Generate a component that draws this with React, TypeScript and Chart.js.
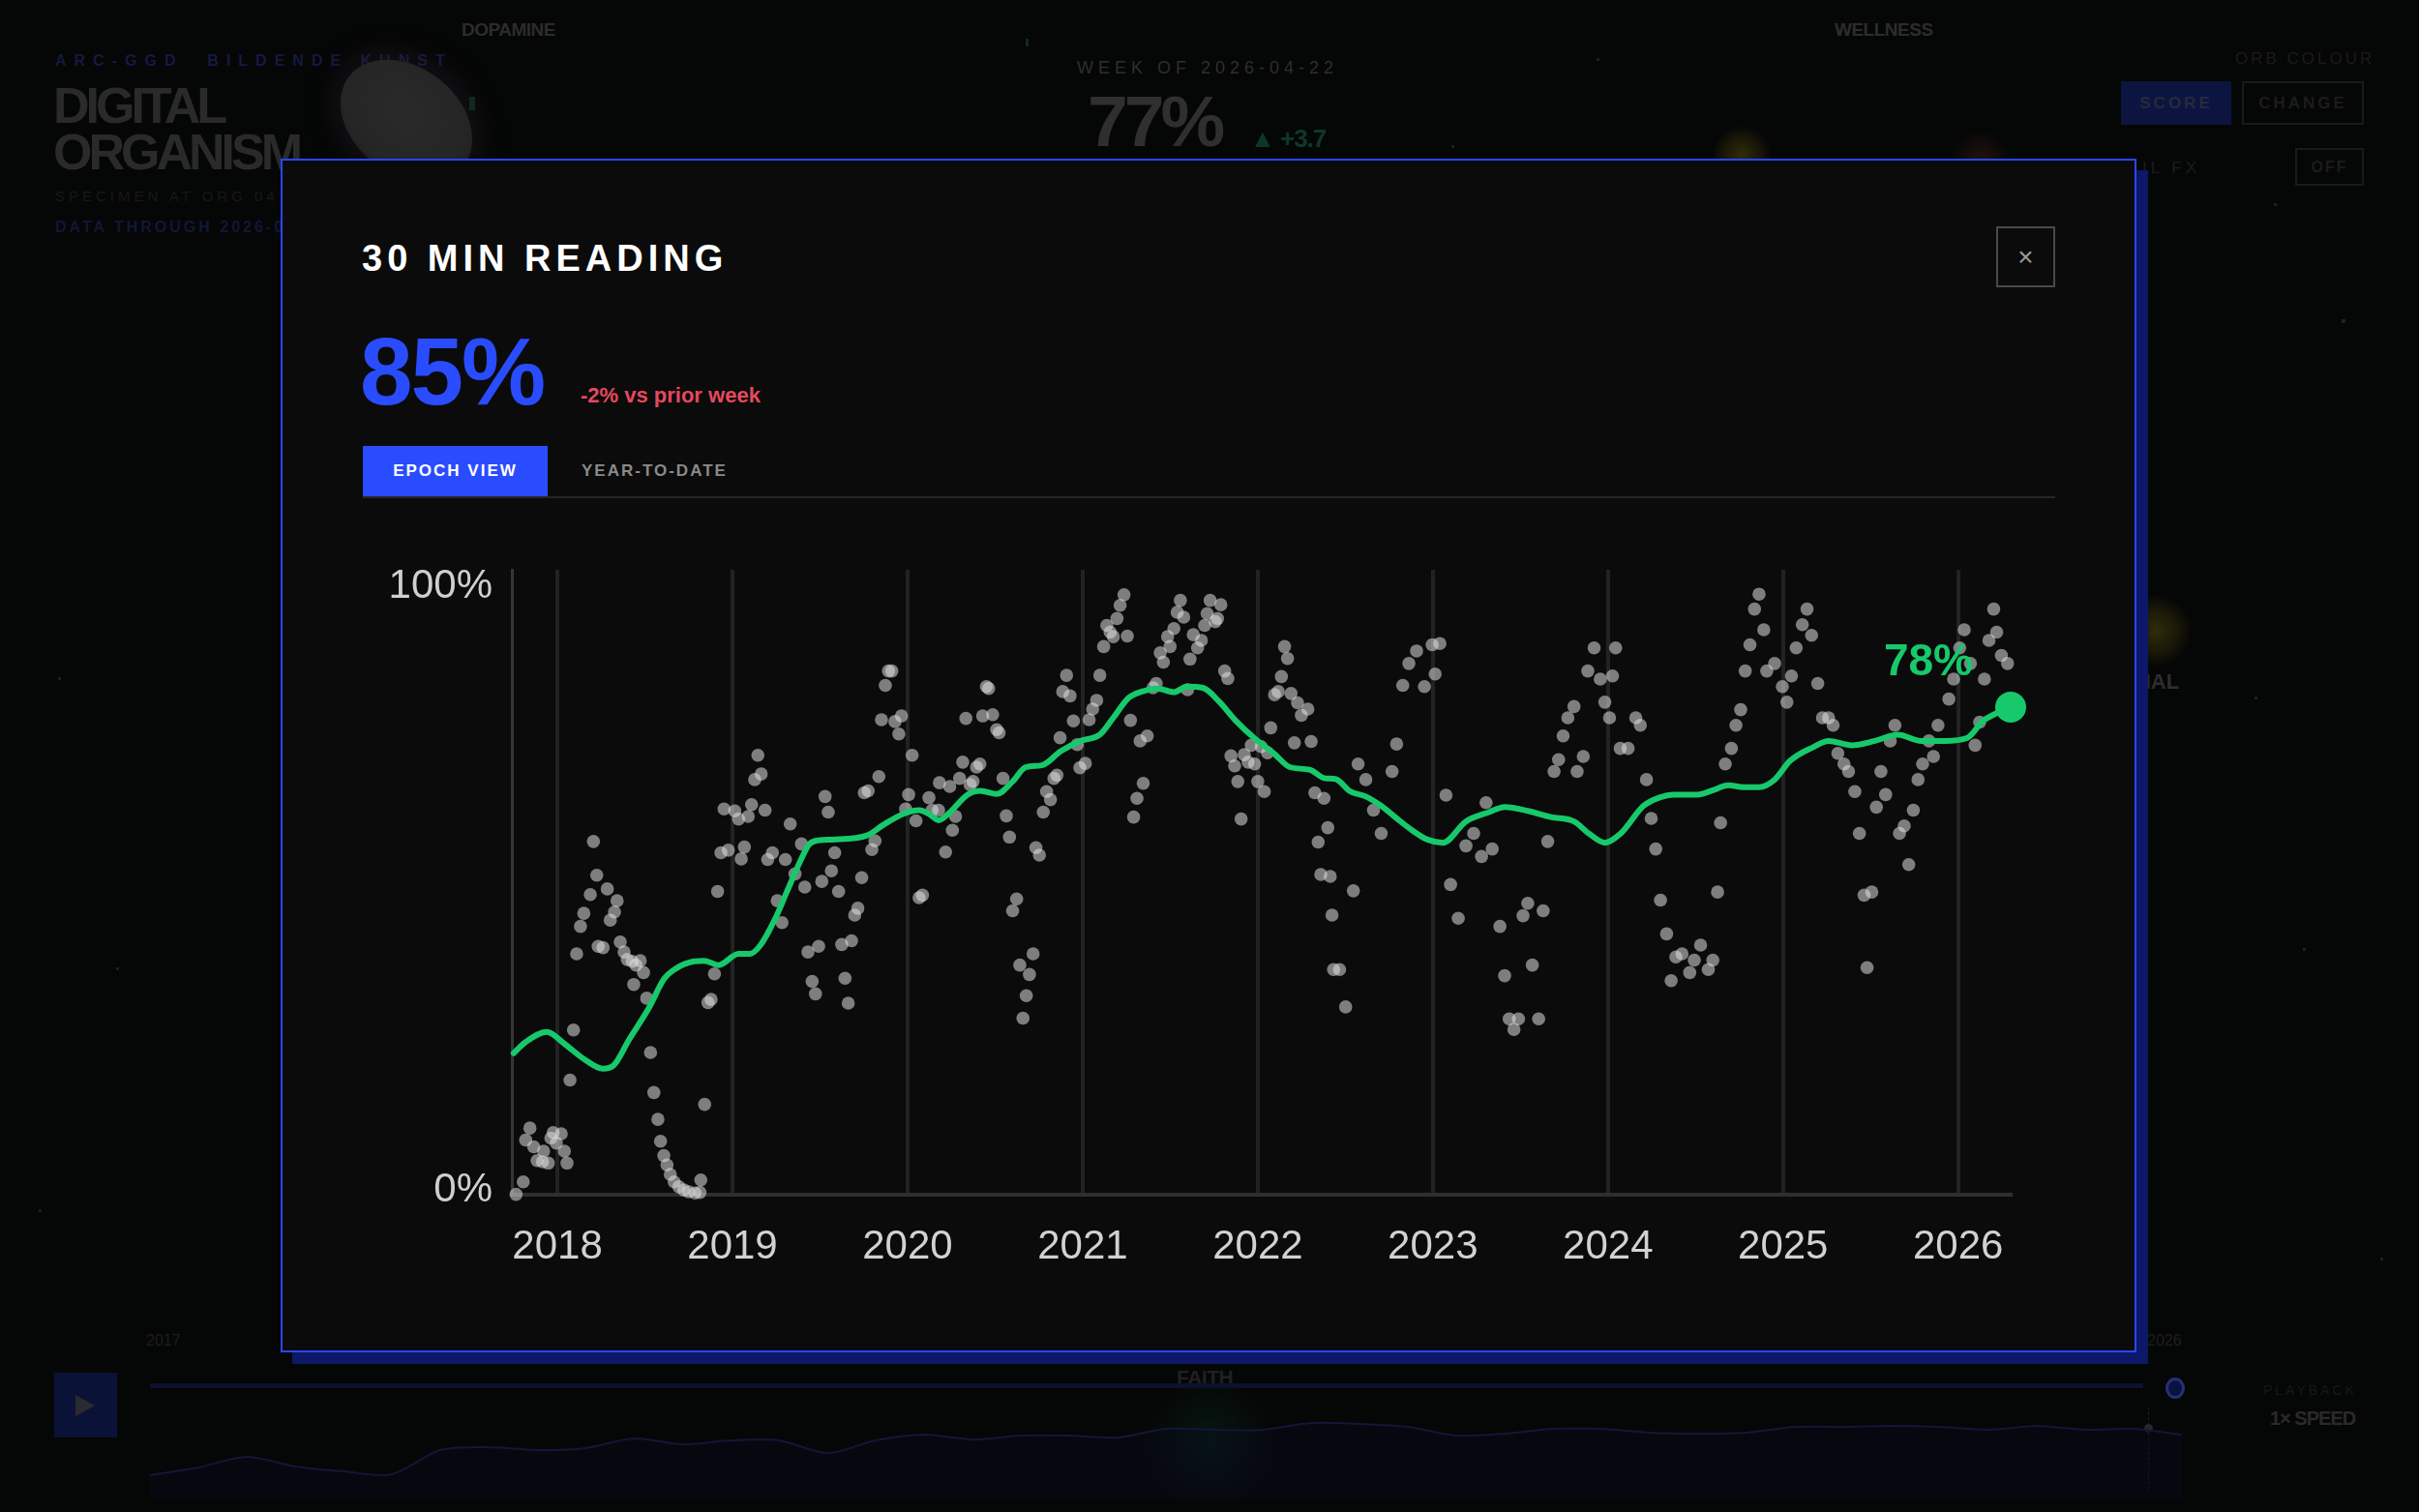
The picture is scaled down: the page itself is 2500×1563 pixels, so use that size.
import React, { useEffect, useRef } from "react";
import { Chart, registerables } from "chart.js";

Chart.register(...registerables);

const FONT = '"Liberation Sans", Arial, Helvetica, sans-serif';
const GREEN = "#17c96b";

// ---------- chart data ----------
const yearTicks = [2018, 2019, 2020, 2021, 2022, 2023, 2024, 2025, 2026];
const yTickValues = [0, 100];
const xRange = [2017.74, 2026.3];

// weekly 30-min readings: [decimal year, percent]
const weeklyReadings: [number, number][] = [
  [2017.764, 0.0], [2017.805, 2.0], [2017.819, 8.7], [2017.843, 10.6], [2017.865, 7.6], [2017.884, 5.4], [2017.915, 5.2], [2017.921, 6.9], [2017.948, 5.0], [2017.963, 9.0], [2017.976, 9.9], [2017.994, 8.2],
  [2018.022, 9.7], [2018.04, 6.9], [2018.055, 5.0], [2018.072, 18.3], [2018.092, 26.3], [2018.11, 38.5], [2018.132, 42.9], [2018.151, 45.0], [2018.188, 48.0], [2018.206, 56.5], [2018.225, 51.1], [2018.233, 39.7],
  [2018.261, 39.5], [2018.285, 48.9], [2018.302, 43.9], [2018.326, 45.2], [2018.341, 47.0], [2018.359, 40.4], [2018.381, 38.8], [2018.399, 37.6], [2018.427, 37.3], [2018.436, 33.6], [2018.449, 36.7], [2018.473, 37.4],
  [2018.492, 35.5], [2018.51, 31.4], [2018.532, 22.7], [2018.551, 16.3], [2018.574, 12.0], [2018.589, 8.5], [2018.608, 6.2], [2018.626, 4.7], [2018.645, 3.2], [2018.667, 2.0], [2018.694, 1.2], [2018.722, 0.7],
  [2018.75, 0.4], [2018.786, 0.2], [2018.814, 0.3], [2018.819, 2.3], [2018.841, 14.4], [2018.86, 30.7], [2018.878, 31.2], [2018.897, 35.3], [2018.915, 48.5], [2018.934, 54.7], [2018.952, 61.7], [2018.976, 55.1],
  [2019.013, 61.4], [2019.035, 60.1], [2019.05, 53.7], [2019.068, 55.6], [2019.09, 60.5], [2019.109, 62.4], [2019.127, 66.4], [2019.145, 70.3], [2019.164, 67.3], [2019.186, 61.5], [2019.201, 53.6], [2019.228, 54.7],
  [2019.256, 47.0], [2019.283, 43.5], [2019.302, 53.6], [2019.33, 59.3], [2019.357, 51.3], [2019.394, 56.1], [2019.413, 49.2], [2019.431, 38.8], [2019.455, 34.1], [2019.474, 32.1], [2019.492, 39.7], [2019.51, 50.1],
  [2019.529, 63.7], [2019.547, 61.2], [2019.565, 51.8], [2019.584, 54.7], [2019.606, 48.5],
  [2019.624, 40.0], [2019.643, 34.6], [2019.661, 30.6], [2019.68, 40.6], [2019.698, 44.7], [2019.716, 45.8], [2019.738, 50.7], [2019.753, 64.3], [2019.775, 64.6], [2019.796, 55.2], [2019.814, 56.6], [2019.836, 66.9],
  [2019.851, 76.0], [2019.873, 81.5], [2019.891, 83.8], [2019.91, 83.8], [2019.928, 75.7], [2019.95, 73.7], [2019.965, 76.6], [2019.989, 61.7], [2020.006, 64.0], [2020.026, 70.3], [2020.048, 59.8], [2020.066, 47.5],
  [2020.085, 47.9], [2020.122, 63.5], [2020.14, 61.5], [2020.177, 61.5], [2020.182, 65.9], [2020.217, 54.8], [2020.241, 65.3], [2020.256, 58.3], [2020.274, 60.5], [2020.297, 66.6], [2020.315, 69.2], [2020.333, 76.2],
  [2020.357, 65.6], [2020.374, 66.1], [2020.394, 68.4], [2020.413, 68.9], [2020.429, 76.6], [2020.45, 81.3], [2020.463, 81.0], [2020.486, 76.8], [2020.509, 74.4], [2020.523, 73.9], [2020.545, 66.6], [2020.564, 60.6],
  [2020.582, 57.2], [2020.6, 45.4], [2020.623, 47.3], [2020.641, 36.7], [2020.659, 28.2], [2020.678, 31.8], [2020.696, 35.2], [2020.717, 38.5], [2020.733, 55.5], [2020.753, 54.3], [2020.775, 61.2], [2020.794, 64.5],
  [2020.816, 63.2], [2020.836, 66.6], [2020.853, 67.1], [2020.871, 73.1], [2020.886, 80.5], [2020.908, 83.1], [2020.928, 79.8], [2020.947, 75.8], [2020.969, 72.0], [2020.984, 68.3], [2021.015, 69.0], [2021.037, 76.0],
  [2021.057, 77.7], [2021.08, 79.1], [2021.098, 83.1], [2021.12, 87.7], [2021.138, 91.1], [2021.157, 90.0], [2021.175, 89.3], [2021.196, 92.2], [2021.214, 94.3], [2021.236, 96.0], [2021.255, 89.4], [2021.273, 75.9],
  [2021.291, 60.4], [2021.31, 63.4], [2021.328, 72.6], [2021.346, 65.8], [2021.369, 73.4], [2021.402, 81.1], [2021.42, 81.8], [2021.443, 86.7], [2021.461, 85.2], [2021.485, 89.3], [2021.499, 87.7], [2021.521, 90.6],
  [2021.54, 93.2], [2021.558, 95.1], [2021.577, 92.4], [2021.599, 80.8], [2021.613, 85.7], [2021.632, 89.6], [2021.656, 87.5], [2021.678, 88.7], [2021.697, 91.1], [2021.711, 93.0], [2021.728, 95.1], [2021.757, 91.7],
  [2021.77, 92.2], [2021.789, 94.4], [2021.811, 83.8], [2021.829, 82.6], [2021.847, 70.2], [2021.868, 68.6], [2021.886, 66.1], [2021.905, 60.1], [2021.923, 70.4], [2021.945, 69.2], [2021.963, 71.9], [2021.982, 68.9],
  [2022.0, 66.1], [2022.019, 71.7], [2022.037, 64.5], [2022.056, 70.7], [2022.074, 74.7], [2022.096, 80.0], [2022.117, 80.5], [2022.135, 82.9], [2022.153, 87.7], [2022.17, 85.8], [2022.19, 80.2], [2022.209, 72.3],
  [2022.227, 78.7], [2022.249, 76.7], [2022.286, 77.7], [2022.305, 72.5], [2022.326, 64.3], [2022.345, 56.4], [2022.36, 51.2], [2022.378, 63.4], [2022.4, 58.7], [2022.414, 50.9], [2022.424, 44.7], [2022.433, 36.0],
  [2022.467, 36.0], [2022.502, 30.0], [2022.546, 48.6], [2022.573, 68.9], [2022.617, 66.4], [2022.661, 61.5], [2022.705, 57.8], [2022.767, 67.7], [2022.793, 72.1], [2022.828, 81.5], [2022.863, 85.0], [2022.907, 87.0],
  [2022.952, 81.3], [2022.996, 88.0], [2023.013, 83.3], [2023.04, 88.2], [2023.075, 63.9], [2023.101, 49.6], [2023.145, 44.2], [2023.189, 55.8], [2023.233, 57.8], [2023.278, 54.1], [2023.304, 62.7], [2023.339, 55.3],
  [2023.383, 42.9], [2023.41, 35.0], [2023.436, 28.1], [2023.463, 26.4], [2023.489, 28.1], [2023.515, 44.6], [2023.542, 46.6], [2023.568, 36.7], [2023.604, 28.1], [2023.63, 45.4], [2023.656, 56.5], [2023.692, 67.7],
  [2023.718, 69.6], [2023.744, 73.4], [2023.771, 76.3], [2023.806, 78.1], [2023.824, 67.7], [2023.859, 70.1], [2023.885, 83.8], [2023.921, 87.5], [2023.956, 82.5], [2023.982, 78.8], [2024.009, 76.3], [2024.026, 83.0],
  [2024.044, 87.5], [2024.07, 71.4], [2024.115, 71.4], [2024.159, 76.3], [2024.185, 75.1], [2024.22, 66.4], [2024.247, 60.2], [2024.273, 55.3], [2024.3, 47.1], [2024.335, 41.7], [2024.361, 34.2], [2024.388, 38.0],
  [2024.423, 38.5], [2024.467, 35.5], [2024.493, 37.5], [2024.529, 39.9], [2024.573, 36.0], [2024.599, 37.5], [2024.626, 48.4], [2024.643, 59.5], [2024.67, 68.9], [2024.705, 71.4], [2024.731, 75.1], [2024.758, 77.6],
  [2024.784, 83.8], [2024.811, 88.0], [2024.837, 93.7], [2024.863, 96.1], [2024.89, 90.4], [2024.907, 83.8], [2024.952, 85.0], [2024.996, 81.3], [2025.022, 78.8], [2025.048, 83.0], [2025.075, 87.5], [2025.11, 91.2],
  [2025.137, 93.7], [2025.163, 89.5], [2025.198, 81.8], [2025.225, 76.3], [2025.26, 76.3], [2025.286, 75.1], [2025.313, 70.6], [2025.348, 68.9], [2025.374, 67.7], [2025.41, 64.5], [2025.436, 57.8], [2025.463, 47.9],
  [2025.48, 36.3], [2025.507, 48.4], [2025.533, 62.0], [2025.559, 67.7], [2025.586, 64.0], [2025.612, 72.6], [2025.639, 75.1], [2025.665, 57.8], [2025.692, 59.0], [2025.718, 52.8], [2025.744, 61.5], [2025.771, 66.4],
  [2025.797, 68.9], [2025.833, 72.6], [2025.859, 70.1], [2025.885, 75.1], [2025.947, 79.3], [2025.974, 82.5], [2026.009, 87.5], [2026.035, 90.4], [2026.07, 85.0], [2026.097, 71.9], [2026.123, 75.6], [2026.15, 82.5],
  [2026.176, 88.7], [2026.203, 93.7], [2026.22, 90.0], [2026.247, 86.3], [2026.282, 85.0],
];

// smoothed trend: [decimal year, percent]
const trendLine: [number, number][] = [
  [2017.75, 22.6], [2017.82, 24.4], [2017.94, 26.0], [2018.04, 24.1], [2018.15, 21.7], [2018.26, 20.1], [2018.32, 20.6], [2018.41, 24.8],
  [2018.52, 29.7], [2018.61, 34.5], [2018.68, 36.2], [2018.78, 37.3], [2018.84, 37.4], [2018.92, 36.7], [2019.035, 38.5], [2019.1, 38.5],
  [2019.16, 39.9], [2019.24, 43.9], [2019.31, 48.4], [2019.38, 52.9], [2019.44, 56.1], [2019.5, 56.7], [2019.569, 56.8], [2019.772, 57.5],
  [2019.864, 59.2], [2019.974, 60.9], [2020.066, 61.5], [2020.122, 60.9], [2020.177, 59.9], [2020.232, 60.9], [2020.343, 64.0], [2020.416, 64.6],
  [2020.509, 64.1], [2020.6, 66.1], [2020.674, 68.4], [2020.766, 68.7], [2020.877, 71.0], [2020.987, 72.6], [2021.098, 73.6], [2021.172, 76.2],
  [2021.263, 79.5], [2021.338, 80.5], [2021.429, 81.0], [2021.521, 80.4], [2021.595, 81.3], [2021.687, 81.1], [2021.779, 78.9], [2021.872, 75.9],
  [2021.982, 73.0], [2022.092, 70.6], [2022.184, 68.4], [2022.295, 68.0], [2022.387, 66.6], [2022.443, 66.5], [2022.529, 64.5], [2022.617, 63.7],
  [2022.705, 62.2], [2022.793, 60.2], [2022.881, 58.3], [2022.969, 56.8], [2023.057, 56.3], [2023.189, 59.7], [2023.322, 61.2], [2023.41, 62.0],
  [2023.542, 61.4], [2023.674, 60.4], [2023.806, 59.7], [2023.894, 57.7], [2023.982, 56.3], [2024.07, 57.7], [2024.203, 62.2], [2024.291, 63.5],
  [2024.379, 64.0], [2024.511, 64.0], [2024.599, 64.7], [2024.687, 65.5], [2024.775, 65.2], [2024.863, 65.2], [2024.952, 66.4], [2025.04, 69.4],
  [2025.172, 71.6], [2025.26, 72.6], [2025.392, 71.9], [2025.524, 72.6], [2025.656, 73.6], [2025.789, 72.6], [2025.921, 72.6], [2026.053, 73.1],
  [2026.141, 75.8], [2026.203, 76.8], [2026.3, 78.0],
];

const latestPoint: [number, number] = [2026.3, 78];

// faint background timeline sparkline (overall score), read left to right
const sparkValues = [25, 33, 44, 34, 29, 26, 51, 54, 51, 53, 63, 57, 61, 61, 48, 61, 67, 62, 66, 66, 64, 73, 72, 72, 79, 78, 75, 66, 68, 73, 73, 69, 68, 69, 75, 75, 76, 75, 72, 76, 72, 73, 67];

// ---------- plugins ----------
const yLabelPlugin = {
  id: "yEdgeLabels",
  afterDraw(chart: any) {
    const { ctx, chartArea, scales } = chart;
    const y = scales.y;
    const top = Math.max(...yTickValues);
    ctx.save();
    ctx.font = `42px ${FONT}`;
    ctx.fillStyle = "#cfcfcf";
    ctx.textAlign = "right";
    ctx.textBaseline = "alphabetic";
    yTickValues.forEach((v) => {
      const py = y.getPixelForValue(v);
      const base = v === top ? py + 29 : py + 7;
      ctx.fillText(`${v}%`, chartArea.left - 20, base);
    });
    ctx.restore();
  },
};

const endLabelPlugin = {
  id: "endLabel",
  afterDatasetsDraw(chart: any) {
    const meta = chart.getDatasetMeta(0);
    const pt = meta && meta.data && meta.data[0];
    if (!pt) return;
    const { ctx } = chart;
    ctx.save();
    ctx.font = `bold 46px ${FONT}`;
    ctx.fillStyle = GREEN;
    ctx.textAlign = "right";
    ctx.textBaseline = "alphabetic";
    ctx.fillText(`${latestPoint[1]}%`, pt.x - 39, pt.y - 33);
    ctx.restore();
  },
};

const txt = (s: React.CSSProperties): React.CSSProperties => ({ position: "absolute", whiteSpace: "nowrap", ...s });

export default function App() {
  const chartRef = useRef<HTMLCanvasElement>(null);
  const sparkRef = useRef<HTMLCanvasElement>(null);

  useEffect(() => {
    document.body.style.margin = "0";
    const main = new Chart(chartRef.current as HTMLCanvasElement, {
      type: "scatter",
      data: {
        datasets: [
          {
            label: "latest",
            data: [{ x: latestPoint[0], y: latestPoint[1] }],
            pointRadius: 16,
            pointBackgroundColor: GREEN,
            pointBorderWidth: 0,
            order: 0,
            clip: false,
          } as any,
          {
            label: "trend",
            data: trendLine.map(([x, y]) => ({ x, y })),
            showLine: true,
            borderColor: GREEN,
            borderWidth: 6,
            pointRadius: 0,
            cubicInterpolationMode: "monotone",
            borderCapStyle: "round",
            borderJoinStyle: "round",
            order: 1,
            clip: false,
          } as any,
          {
            label: "weekly",
            data: weeklyReadings.map(([x, y]) => ({ x, y })),
            pointRadius: 6.8,
            pointBackgroundColor: "rgba(222,222,222,0.55)",
            pointBorderWidth: 0,
            order: 2,
            clip: false,
          } as any,
        ],
      },
      options: {
        responsive: false,
        animation: false,
        devicePixelRatio: 1,
        events: [],
        layout: { padding: { left: 149, right: 62, top: 29, bottom: 0 } },
        plugins: { legend: { display: false }, tooltip: { enabled: false } },
        scales: {
          x: {
            type: "linear",
            min: xRange[0],
            max: xRange[1],
            afterBuildTicks: (axis: any) => {
              axis.ticks = yearTicks.map((value) => ({ value }));
            },
            ticks: {
              callback: (v: any) => String(v),
              color: "#d2d2d2",
              font: { size: 42, family: FONT },
              padding: 30,
              autoSkip: false,
              maxRotation: 0,
            },
            grid: { color: "#222222", lineWidth: 4, drawTicks: false },
            border: { color: "#2e2e2e", width: 4 },
          },
          y: {
            min: 0,
            max: 100,
            ticks: { display: false },
            grid: { display: false, drawTicks: false },
            border: { color: "#363636", width: 3 },
          },
        },
      } as any,
      plugins: [yLabelPlugin, endLabelPlugin],
    });

    const spark = new Chart(sparkRef.current as HTMLCanvasElement, {
      type: "line",
      data: {
        labels: sparkValues.map((_, i) => i),
        datasets: [
          {
            data: sparkValues,
            borderColor: "#121738",
            borderWidth: 2,
            pointRadius: 0,
            tension: 0.3,
            fill: "start",
            backgroundColor: "rgba(10,12,30,0.4)",
          },
        ],
      },
      options: {
        responsive: false,
        animation: false,
        devicePixelRatio: 1,
        events: [],
        layout: { padding: 0 },
        plugins: { legend: { display: false }, tooltip: { enabled: false } },
        scales: { x: { display: false }, y: { display: false, min: 0, max: 100 } },
      } as any,
    });

    return () => {
      main.destroy();
      spark.destroy();
    };
  }, []);

  const specks = [
    [485, 100, 6, 14], [1060, 40, 3, 8], [1500, 150, 3, 3], [1650, 60, 3, 3], [2350, 210, 3, 3], [2420, 330, 4, 4],
    [2330, 720, 3, 3], [2380, 980, 3, 3], [60, 700, 3, 3], [120, 1000, 3, 3], [40, 1250, 3, 3], [2460, 1300, 3, 3], [1900, 30, 3, 3],
  ];

  return (
    <div style={{ position: "fixed", left: 0, top: 0, width: 2500, height: 1563, overflow: "hidden", background: "#050606", fontFamily: FONT }}>
      {/* ---- dimmed page behind the modal ---- */}
      {specks.map(([x, y, w, h], i) => (
        <div key={i} style={{ position: "absolute", left: x, top: y, width: w, height: h, background: "#0c2a1c" }} />
      ))}
      <div style={txt({ left: 57, top: 55, fontSize: 16, fontWeight: 700, letterSpacing: 8, color: "#141a40", lineHeight: "16px" })}>ARC-GGD&nbsp;&nbsp;BILDENDE KUNST</div>
      <div style={txt({ left: 55, top: 85, fontSize: 52, fontWeight: 700, letterSpacing: -4, color: "#2a2a2a", lineHeight: "48px" })}>
        DIGITAL
        <br />
        ORGANISM
      </div>
      <div style={txt({ left: 57, top: 195, fontSize: 15, letterSpacing: 4, color: "#181818", lineHeight: "15px" })}>SPECIMEN AT ORG 04 — WEEKLY</div>
      <div style={txt({ left: 57, top: 227, fontSize: 16, fontWeight: 700, letterSpacing: 3, color: "#111736", lineHeight: "16px" })}>DATA THROUGH 2026-06-01</div>
      <div
        style={{
          position: "absolute", left: 345, top: 70, width: 150, height: 110, borderRadius: "50%",
          background: "radial-gradient(ellipse at 45% 45%, #2a2a2a 0%, #252525 60%, #1b181c 100%)",
          transform: "rotate(38deg)", boxShadow: "0 0 30px 6px rgba(50,38,52,0.4)",
        }}
      />
      <div style={txt({ left: 477, top: 21, fontSize: 19, fontWeight: 700, color: "#2c2c2c", letterSpacing: -0.5, lineHeight: "19px" })}>DOPAMINE</div>
      <div style={txt({ left: 1896, top: 21, fontSize: 19, fontWeight: 700, color: "#2c2c2c", letterSpacing: -0.5, lineHeight: "19px" })}>WELLNESS</div>
      <div style={txt({ left: 1113, top: 61, fontSize: 18, letterSpacing: 5, color: "#2e2e2e", lineHeight: "18px" })}>WEEK OF 2026-04-22</div>
      <div style={txt({ left: 1124, top: 88, fontSize: 75, fontWeight: 700, letterSpacing: -4, color: "#2f2f2f", lineHeight: "75px" })}>77%</div>
      <div style={txt({ left: 1292, top: 130, fontSize: 26, fontWeight: 700, color: "#0e3826", lineHeight: "26px", letterSpacing: -1 })}>▲ +3.7</div>
      <div style={{ position: "absolute", left: 1770, top: 130, width: 60, height: 60, borderRadius: "50%", background: "radial-gradient(circle, rgba(80,70,10,0.6) 0%, rgba(55,48,8,0.3) 50%, rgba(0,0,0,0) 72%)" }} />
      <div style={{ position: "absolute", left: 2015, top: 135, width: 64, height: 60, borderRadius: "50%", background: "radial-gradient(circle, rgba(70,35,22,0.45) 0%, rgba(0,0,0,0) 70%)" }} />
      <div style={txt({ left: 2310, top: 52, fontSize: 17, letterSpacing: 3, color: "#1b1b1b", lineHeight: "17px" })}>ORB COLOUR</div>
      <div style={{ position: "absolute", left: 2192, top: 84, width: 114, height: 45, background: "#0c1440", color: "#262a3c", fontSize: 17, fontWeight: 700, letterSpacing: 3, display: "flex", alignItems: "center", justifyContent: "center" }}>SCORE</div>
      <div style={{ position: "absolute", left: 2317, top: 84, width: 126, height: 45, boxSizing: "border-box", border: "2px solid #191919", color: "#1c1c1c", fontSize: 17, fontWeight: 700, letterSpacing: 3, display: "flex", alignItems: "center", justifyContent: "center" }}>CHANGE</div>
      <div style={txt({ left: 2168, top: 165, fontSize: 17, letterSpacing: 4, color: "#1c1c1c", lineHeight: "17px" })}>TRAIL FX</div>
      <div style={{ position: "absolute", left: 2372, top: 153, width: 71, height: 39, boxSizing: "border-box", border: "2px solid #191919", color: "#1c1c1c", fontSize: 16, fontWeight: 700, letterSpacing: 2, display: "flex", alignItems: "center", justifyContent: "center" }}>OFF</div>
      <div style={{ position: "absolute", left: 2190, top: 614, width: 76, height: 76, borderRadius: "50%", background: "radial-gradient(circle, rgba(58,52,12,0.8) 0%, rgba(45,40,9,0.55) 40%, rgba(0,0,0,0) 70%)" }} />
      <div style={txt({ left: 2169, top: 694, fontSize: 22, fontWeight: 700, color: "#2e2e2e", lineHeight: "22px" })}>SOCIAL</div>

      {/* bottom timeline */}
      <div style={txt({ left: 151, top: 1378, fontSize: 16, color: "#1e1e1e", lineHeight: "16px" })}>2017</div>
      <div style={txt({ left: 2219, top: 1378, fontSize: 16, color: "#1e1e1e", lineHeight: "16px" })}>2026</div>
      <div style={{ position: "absolute", left: 1180, top: 1420, width: 140, height: 140, borderRadius: "50%", background: "radial-gradient(circle, rgba(8,50,35,0.4) 0%, rgba(0,0,0,0) 70%)" }} />
      <div style={txt({ left: 1216, top: 1413, fontSize: 21, fontWeight: 700, color: "#202020", lineHeight: "21px", letterSpacing: -0.5 })}>FAITH</div>
      <div style={{ position: "absolute", left: 56, top: 1419, width: 65, height: 67, background: "#0b1238" }} />
      <div style={{ position: "absolute", left: 78, top: 1442, width: 0, height: 0, borderTop: "11px solid transparent", borderBottom: "11px solid transparent", borderLeft: "20px solid #2a2a30" }} />
      <div style={{ position: "absolute", left: 155, top: 1430, width: 2060, height: 5, background: "#0c1130" }} />
      <div style={{ position: "absolute", left: 2238, top: 1424, width: 20, height: 22, boxSizing: "border-box", borderRadius: "50%", border: "3px solid #27307a", background: "#0c1240" }} />
      <div style={{ position: "absolute", left: 2220, top: 1455, width: 0, height: 85, borderLeft: "1px dashed #1c1c2a" }} />
      <div style={{ position: "absolute", left: 2216, top: 1472, width: 9, height: 9, borderRadius: "50%", background: "#26262c" }} />
      <canvas ref={sparkRef} width={2100} height={100} style={{ position: "absolute", left: 155, top: 1450, width: 2100, height: 100 }} />
      <div style={txt({ left: 2339, top: 1430, fontSize: 14, letterSpacing: 3, color: "#181818", lineHeight: "14px" })}>PLAYBACK</div>
      <div style={txt({ left: 2346, top: 1456, fontSize: 20, fontWeight: 700, color: "#2a2a2a", lineHeight: "20px", letterSpacing: -1 })}>1× SPEED</div>

      {/* ---- modal ---- */}
      <div
        style={{
          position: "absolute", left: 290, top: 164, width: 1918, height: 1234, boxSizing: "border-box",
          border: "2px solid #2b46ff", background: "#0b0b0b", boxShadow: "12px 12px 0 0 #0c1868",
        }}
      >
        <div style={txt({ left: 82, top: 82, fontSize: 38, fontWeight: 700, letterSpacing: 5, color: "#ffffff", lineHeight: "38px" })}>30 MIN READING</div>
        <div style={txt({ left: 80, top: 169, fontSize: 98, fontWeight: 700, letterSpacing: -2, color: "#2a4cff", lineHeight: "98px" })}>85%</div>
        <div style={txt({ left: 308, top: 232, fontSize: 22, fontWeight: 700, color: "#e5485f", lineHeight: "22px", letterSpacing: 0 })}>-2% vs prior week</div>
        <div style={{ position: "absolute", left: 83, top: 347, width: 1749, height: 2, background: "#262626" }} />
        <div style={{ position: "absolute", left: 83, top: 295, width: 191, height: 52, background: "#2a4cff", color: "#ffffff", fontSize: 17, fontWeight: 700, letterSpacing: 2, display: "flex", alignItems: "center", justifyContent: "center" }}>EPOCH VIEW</div>
        <div style={{ position: "absolute", left: 309, top: 295, height: 52, color: "#8a8a8a", fontSize: 17, fontWeight: 700, letterSpacing: 2, display: "flex", alignItems: "center", whiteSpace: "nowrap" }}>YEAR-TO-DATE</div>
        <div style={{ position: "absolute", left: 1771, top: 68, width: 61, height: 63, boxSizing: "border-box", border: "2px solid #4a4a4a", color: "#9a9a9a", fontSize: 28, display: "flex", alignItems: "center", justifyContent: "center", lineHeight: "28px" }}>×</div>
        <canvas ref={chartRef} width={1760} height={785} style={{ position: "absolute", left: 88, top: 394, width: 1760, height: 785 }} />
      </div>
    </div>
  );
}
